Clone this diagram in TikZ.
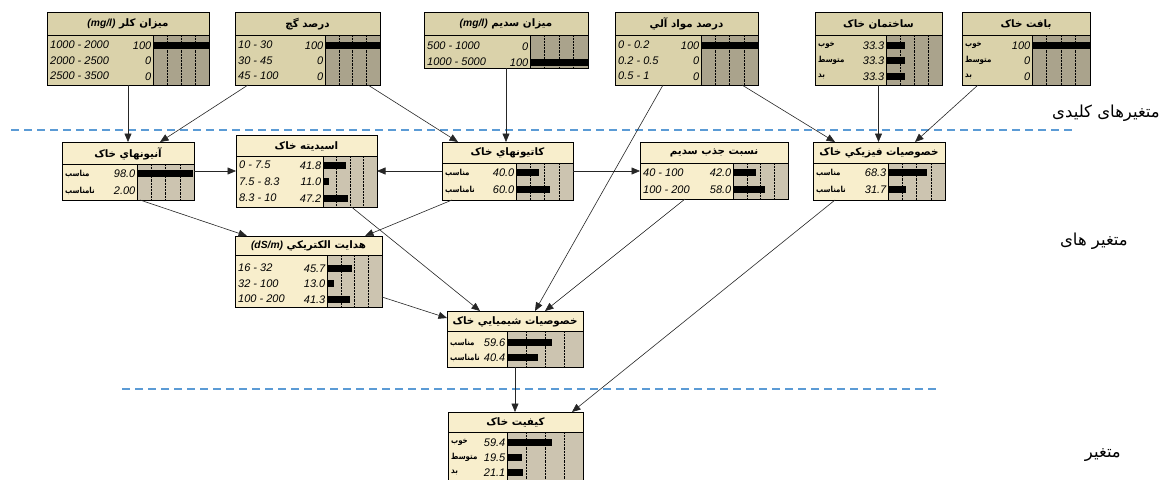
\documentclass[tikz,border=0pt]{standalone}
\usepackage{fontspec}
\setmainfont{Liberation Sans}
\newfontfamily\latfont{Liberation Sans}
\newfontfamily\fafont[Script=Arabic]{DejaVu Sans}
\newfontfamily\fanarrow[Script=Arabic,FakeStretch=0.85]{DejaVu Sans}
\TeXXeTstate=1
\usetikzlibrary{arrows.meta}

\definecolor{evhdr}{HTML}{DAD2AA}
\definecolor{evbar}{HTML}{AAA38C}
\definecolor{plhdr}{HTML}{F8EECC}
\definecolor{plbar}{HTML}{CCC4B0}
\definecolor{sepblue}{HTML}{5B9BD5}

\tikzset{
  boxframe/.style={draw=black, line width=0.8pt, inner sep=0pt, outer sep=0pt, anchor=north west},
  boxline/.style={draw=black, line width=0.7pt},
  gridline/.style={draw=black, line width=0.45pt, densely dotted},
  titletext/.style={font=\fafont\bfseries\fontsize{10.3}{12}\selectfont, inner sep=0pt},
  rowlab/.style={font=\latfont\itshape\fontsize{11}{12}\selectfont, inner sep=0pt, anchor=west},
  rowval/.style={font=\latfont\itshape\fontsize{11}{12}\selectfont, inner sep=0pt, anchor=east},
  sidelab/.style={font=\fafont\fontsize{16.5}{18}\selectfont, inner sep=0pt, anchor=east},
  sepline/.style={draw=sepblue, line width=1.4pt, dash pattern=on 8pt off 5pt},
  link/.style={draw=black!85, line width=0.6pt, -{Triangle[length=8.5pt,width=7pt]}}
}

% Persian state label inside a node body
\newcommand\farow[1]{{\fanarrow\upshape\bfseries\fontsize{8.3}{9}\selectfont\beginR#1\endR}}

% network node: name, left, top, right, header bottom, bottom, bar-area left, title, colour prefix
\newcommand\bnbox[9]{%
  \def\bnL{#2}\def\bnT{#3}\def\bnRt{#4}\def\bnH{#5}\def\bnB{#6}\def\bnX{#7}%
  \pgfmathsetmacro\bnW{#4-#7}%
  \pgfmathsetmacro\bnWd{#4-#2}%
  \pgfmathsetmacro\bnHt{#6-#3}%
  \fill[#9hdr] (#2,#3) rectangle (#7,#6);
  \fill[#9hdr] (#2,#3) rectangle (#4,#5);
  \fill[#9bar] (#7,#5) rectangle (#4,#6);
  \foreach \f in {0.25,0.5,0.75}{\draw[gridline] ({#7+\f*\bnW},#5) -- ({#7+\f*\bnW},#6);}
  \draw[boxline] (#2,#5) -- (#4,#5) (#7,#5) -- (#7,#6);
  \node[titletext] at ({(#2+#4)/2},{(#3+#5)/2+0.5}) {#8};
  \node[boxframe, minimum width=\bnWd pt, minimum height=\bnHt pt] (#1) at (#2,#3) {};
}

% one state row: index, label, value, percent
\newcommand\bnrow[4]{%
  \pgfmathsetmacro\bnY{\bnH+\bnF+(#1-1)*\bnP}%
  \node[rowlab] at (\bnL+3,\bnY) {#2};
  \node[rowval] at (\bnX-1.5,\bnY+0.5) {#3};
  \pgfmathsetmacro\bnE{\bnX+#4/100*\bnW}%
  \ifdim #4pt>0pt \fill[black] (\bnX,\bnY-3.5) rectangle (\bnE,\bnY+3.5); \fi
}

\begin{document}
\begin{tikzpicture}[x=1pt,y=-1pt]
\useasboundingbox (0,0) rectangle (1166,479);
\clip (0,0) rectangle (1166,479);
\fill[white] (0,0) rectangle (1166,479);

% layer separators
\draw[sepline] (11,130) -- (1076,130);
\draw[sepline] (122,389) -- (940,389);

% side labels
\node[sidelab] (lkey) at (1160,113) {\beginR متغیرهای کلیدی\endR};
\node[sidelab] (lmid) at (1128,241) {\beginR متغیر های\endR};
\node[sidelab] (lout) at (1121,455) {\beginR متغیر\endR};

% ---- key variables
\def\bnF{10}\def\bnP{15.5}
\bnbox{chlor}{47}{12}{209}{35}{85}{153}{\beginR میزان کلر \beginL{\latfont\itshape(mg/l)}\endL\endR}{ev}
\bnrow{1}{1000 - 2000}{100}{100}
\bnrow{2}{2000 - 2500}{0}{0}
\bnrow{3}{2500 - 3500}{0}{0}

\bnbox{gypsum}{235}{12}{380}{35}{85}{325}{\beginR درصد گچ\endR}{ev}
\bnrow{1}{10 - 30}{100}{100}
\bnrow{2}{30 - 45}{0}{0}
\bnrow{3}{45 - 100}{0}{0}

\def\bnF{11}\def\bnP{16}
\bnbox{sodium}{424}{12}{588}{35}{68}{530}{\beginR میزان سدیم \beginL{\latfont\itshape(mg/l)}\endL\endR}{ev}
\bnrow{1}{500 - 1000}{0}{0}
\bnrow{2}{1000 - 5000}{100}{100}

\def\bnF{10}\def\bnP{15.5}
\bnbox{organic}{615}{12}{758}{35}{85}{701}{\beginR درصد مواد آلي\endR}{ev}
\bnrow{1}{0 - 0.2}{100}{100}
\bnrow{2}{0.2 - 0.5}{0}{0}
\bnrow{3}{0.5 - 1}{0}{0}

\bnbox{structure}{815}{12}{942}{35}{85}{886}{\beginR ساختمان خاک\endR}{ev}
\bnrow{1}{\farow{خوب}}{33.3}{33.3}
\bnrow{2}{\farow{متوسط}}{33.3}{33.3}
\bnrow{3}{\farow{بد}}{33.3}{33.3}

\bnbox{texture}{962}{12}{1090}{35}{85}{1032}{\beginR بافت خاک\endR}{ev}
\bnrow{1}{\farow{خوب}}{100}{100}
\bnrow{2}{\farow{متوسط}}{0}{0}
\bnrow{3}{\farow{بد}}{0}{0}

% ---- intermediate variables
\def\bnF{9.5}\def\bnP{17}
\bnbox{anions}{62}{142}{194}{164}{200}{137}{\beginR آنیونهاي خاک\endR}{pl}
\bnrow{1}{\farow{مناسب}}{98.0}{98.0}
\bnrow{2}{\farow{نامناسب}}{2.00}{2.00}

\def\bnF{9}\def\bnP{16.5}
\bnbox{acidity}{236}{135}{377}{156}{207}{323}{\beginR اسیدیته خاک\endR}{pl}
\bnrow{1}{0 - 7.5}{41.8}{41.8}
\bnrow{2}{7.5 - 8.3}{11.0}{11.0}
\bnrow{3}{8.3 - 10}{47.2}{47.2}

\def\bnF{9.5}\def\bnP{17}
\bnbox{cations}{442}{142}{573}{163}{200}{516}{\beginR کاتیونهاي خاک\endR}{pl}
\bnrow{1}{\farow{مناسب}}{40.0}{40.0}
\bnrow{2}{\farow{نامناسب}}{60.0}{60.0}

\bnbox{sar}{640}{142}{788}{163}{199}{733}{\beginR نسبت جذب سدیم\endR}{pl}
\bnrow{1}{40 - 100}{42.0}{42.0}
\bnrow{2}{100 - 200}{58.0}{58.0}

\bnbox{physical}{813}{142}{945}{163}{200}{888}{\beginR خصوصیات فیزیکي خاک\endR}{pl}
\bnrow{1}{\farow{مناسب}}{68.3}{68.3}
\bnrow{2}{\farow{نامناسب}}{31.7}{31.7}

\def\bnF{13}\def\bnP{15.5}
\bnbox{ec}{235}{236}{382}{255}{307}{327}{\beginR هدایت الکتریکي \beginL{\latfont\itshape(dS/m)}\endL\endR}{pl}
\bnrow{1}{16 - 32}{45.7}{45.7}
\bnrow{2}{32 - 100}{13.0}{13.0}
\bnrow{3}{100 - 200}{41.3}{41.3}

\def\bnF{11.5}\def\bnP{15}
\bnbox{chem}{447}{311}{583}{331}{367}{507}{\beginR خصوصیات شیمیایي خاک\endR}{pl}
\bnrow{1}{\farow{مناسب}}{59.6}{59.6}
\bnrow{2}{\farow{نامناسب}}{40.4}{40.4}

% ---- output variable
\def\bnF{10}\def\bnP{15}
\bnbox{quality}{448}{412}{583}{432}{492}{507}{\beginR کیفیت خاک\endR}{pl}
\bnrow{1}{\farow{خوب}}{59.4}{59.4}
\bnrow{2}{\farow{متوسط}}{19.5}{19.5}
\bnrow{3}{\farow{بد}}{21.1}{21.1}

% ---- dependencies
\draw[link] (chlor.south) -- (anions.north);
\draw[link] ([xshift=13pt]gypsum.south west) -- ([xshift=-34pt]anions.north east);
\draw[link] ([xshift=-12pt]gypsum.south east) -- ([xshift=16pt]cations.north west);
\draw[link] (sodium.south) -- (sodium.south |- cations.north);
\draw[link] ([xshift=48pt]organic.south west) -- ([xshift=20pt]chem.north);
\draw[link] ([xshift=-16pt]organic.south east) -- ([xshift=22pt]physical.north west);
\draw[link] (structure.south) -- (structure.south |- physical.north);
\draw[link] ([xshift=16pt]texture.south west) -- ([xshift=-30pt]physical.north east);
\draw[link] (anions.east) -- (anions.east -| acidity.west);
\draw[link] (cations.west) -- (cations.west -| acidity.east);
\draw[link] (cations.east) -- (cations.east -| sar.west);
\draw[link] ([xshift=12pt]anions.south) -- ([xshift=12pt]ec.north west);
\draw[link] ([xshift=10pt]cations.south west) -- ([xshift=-17pt]ec.north east);
\draw[link] ([xshift=45pt]acidity.south) -- ([xshift=33pt]chem.north west);
\draw[link] ([xshift=45pt]sar.south west) -- ([xshift=-38pt]chem.north east);
\draw[link] ([yshift=10pt]ec.south east) -- ([yshift=-7pt]chem.north west);
\draw[link] ([xshift=22pt]physical.south west) -- ([xshift=-11pt]quality.north east);
\draw[link] (chem.south) -- (chem.south |- quality.north);
\end{tikzpicture}
\end{document}
